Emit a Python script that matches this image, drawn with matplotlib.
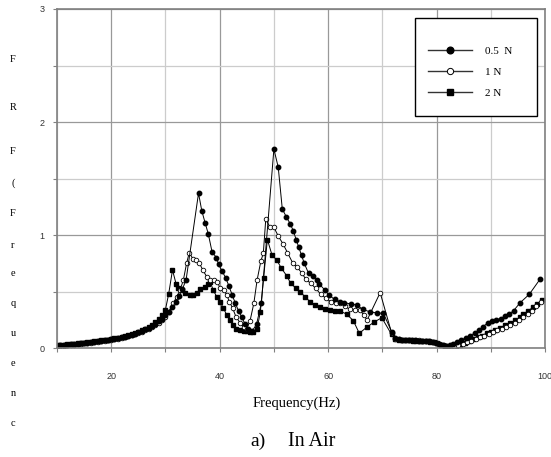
import matplotlib.pyplot as plt
from matplotlib.lines import Line2D
from matplotlib.patches import Rectangle
from matplotlib.ticker import MultipleLocator

# data (frequency in Hz, FRF)
low_f = [10, 10.6, 11.3, 11.9, 12.5, 13.1, 13.8, 14.4, 15, 15.6, 16.3, 16.9,
         17.5, 18.1, 18.8, 19.4, 20, 20.6, 21.3, 21.9, 22.5, 23.1, 23.8, 24.4,
         25, 25.6, 26.3, 26.9, 27.5, 28.1, 28.8, 29.4, 30]

f_05 = low_f + [30.6, 31.3, 31.9, 32.5, 33.1, 33.8,
                36.1, 36.7, 37.3, 37.9, 38.6, 39.4, 39.8, 40.4, 41.1, 41.7,
                42.3, 42.9, 43.5, 44.1, 44.7, 45.3, 46.0, 46.8, 47.7,
                50.0, 50.8, 51.55, 52.3, 53.0, 53.6, 54.1, 54.6, 55.1, 55.6,
                56.4, 57.3, 57.9, 58.4, 59.4, 60.2, 61.2, 62.2, 63.0, 64.2,
                65.3, 66.4, 67.7, 69.0, 70.2, 71.7, 72.3, 73.0, 73.6, 74.2,
                74.9, 75.5, 76.1, 76.8, 77.4, 78.0, 78.6, 79.3, 79.9, 80.5,
                81.1, 81.8, 82.4, 83.0, 83.8, 84.6, 85.4, 86.2, 87.0, 87.8,
                88.6, 89.4, 90.2, 91.0, 91.8, 92.6, 93.4, 94.2, 95.4, 97.1, 99.1]
v_05 = [0.022, 0.024, 0.026, 0.028, 0.031, 0.033, 0.036, 0.040, 0.044, 0.047,
        0.051, 0.055, 0.059, 0.063, 0.067, 0.071, 0.076, 0.081, 0.087, 0.094,
        0.101, 0.109, 0.118, 0.128, 0.139, 0.151, 0.164, 0.178, 0.195, 0.213,
        0.235, 0.26, 0.29,
        0.32, 0.36, 0.41, 0.46, 0.52, 0.60,
        1.37, 1.215, 1.11, 1.01, 0.85, 0.80, 0.74, 0.684, 0.622, 0.55,
        0.47, 0.395, 0.327, 0.27, 0.21, 0.165, 0.15, 0.21, 0.40,
        1.76, 1.60, 1.23, 1.16, 1.10, 1.035, 0.96, 0.89, 0.82, 0.75,
        0.66, 0.635, 0.60, 0.565, 0.513, 0.466, 0.43, 0.41, 0.40, 0.39,
        0.38, 0.342, 0.32, 0.31, 0.307, 0.145, 0.09, 0.08, 0.075, 0.075,
        0.07, 0.07, 0.068, 0.065, 0.065, 0.062, 0.06, 0.055, 0.045, 0.035,
        0.025, 0.02, 0.025, 0.035, 0.05, 0.07, 0.09, 0.11, 0.13, 0.155,
        0.19, 0.22, 0.24, 0.25, 0.26, 0.28, 0.30, 0.33, 0.40, 0.475, 0.61]

f_1 = low_f + [30.6, 31.45, 32.07, 32.7, 33.3, 33.9, 34.4, 35.1, 35.6, 36.2,
               36.9, 37.6, 38.3, 39.0, 39.6, 40.06, 40.8, 41.3, 41.8, 42.4,
               43.0, 43.75, 44.4, 45.0, 45.6, 46.3, 46.9, 47.6, 48.05, 48.5,
               49.3, 50.0, 50.8, 51.7, 52.5, 53.5, 54.2, 55.1, 55.9, 56.8,
               57.7, 58.6, 59.6, 60.5, 61.4, 62.2, 63.1, 64.0, 65.0, 65.9,
               66.6, 67.2, 69.6, 71.7, 72.3, 73.0, 73.6, 74.3, 74.9, 75.5,
               76.2, 76.8, 77.5, 78.1, 78.7, 79.4, 80.0, 80.7, 81.3, 82.0,
               82.6, 83.3, 84.0, 84.8, 85.6, 86.4, 87.2, 88.0, 88.8, 89.6,
               90.4, 91.2, 92.0, 92.8, 93.6, 94.4, 95.2, 96.0, 96.8, 97.6,
               98.4, 99.2]
v_1 = [0.018, 0.020, 0.022, 0.024, 0.027, 0.029, 0.032, 0.036, 0.040, 0.043,
       0.047, 0.051, 0.055, 0.059, 0.063, 0.067, 0.071, 0.076, 0.082, 0.089,
       0.096, 0.104, 0.113, 0.122, 0.133, 0.144, 0.156, 0.170, 0.186, 0.204,
       0.224, 0.248, 0.275,
       0.32, 0.395, 0.454, 0.513, 0.60, 0.75, 0.845, 0.785, 0.779, 0.755,
       0.69, 0.631, 0.60, 0.605, 0.587, 0.528, 0.513, 0.469, 0.41, 0.351,
       0.277, 0.224, 0.189, 0.17, 0.24, 0.395, 0.60, 0.77, 0.838, 1.139,
       1.068, 1.068, 0.991, 0.92, 0.844, 0.75, 0.72, 0.667, 0.608, 0.572,
       0.528, 0.478, 0.44, 0.41, 0.40, 0.40, 0.37, 0.342, 0.338, 0.336,
       0.29, 0.248, 0.49, 0.135, 0.08, 0.078, 0.075, 0.074, 0.072, 0.07,
       0.068, 0.067, 0.066, 0.064, 0.06, 0.055, 0.045, 0.035, 0.025, 0.018,
       0.015, 0.02, 0.028, 0.038, 0.05, 0.065, 0.08, 0.095, 0.11, 0.125,
       0.14, 0.155, 0.17, 0.185, 0.205, 0.225, 0.25, 0.275, 0.30, 0.33,
       0.37, 0.41]

f_2 = low_f + [30.6, 31.3, 31.95, 32.4, 33.0, 33.6, 34.5, 35.1, 35.9, 36.4,
               37.3, 37.9, 38.3, 38.8, 39.45, 40.06, 40.7, 41.3, 41.9, 42.5,
               43.1, 43.75, 44.4, 45.0, 45.6, 46.2, 46.9, 47.5, 48.1, 48.8,
               49.65, 50.5, 51.4, 52.35, 53.1, 54.1, 54.9, 55.8, 56.7, 57.6,
               58.5, 59.4, 60.35, 61.3, 62.2, 63.4, 64.65, 65.75, 67.1, 68.5,
               69.9, 71.7, 72.4, 73.0, 73.6, 74.3, 74.9, 75.6, 76.2, 76.9,
               77.5, 78.2, 78.8, 79.5, 80.1, 80.8, 81.5, 82.2, 82.9, 83.6,
               84.4, 85.2, 86.0, 86.8, 87.6, 88.4, 89.25, 90.0, 90.8, 91.7,
               92.6, 93.5, 94.5, 95.3, 96.0, 96.9, 97.8, 98.6, 99.4]
v_2 = [0.026, 0.028, 0.030, 0.032, 0.034, 0.037, 0.040, 0.044, 0.048, 0.051,
       0.055, 0.059, 0.063, 0.067, 0.071, 0.075, 0.080, 0.085, 0.091, 0.098,
       0.106, 0.114, 0.124, 0.134, 0.146, 0.158, 0.172, 0.188, 0.206, 0.228,
       0.255, 0.29, 0.34,
       0.48, 0.69, 0.57, 0.53, 0.513, 0.49, 0.469, 0.47, 0.484, 0.52,
       0.54, 0.566, 0.58, 0.513, 0.454, 0.41, 0.351, 0.292, 0.248, 0.204,
       0.165, 0.155, 0.153, 0.15, 0.145, 0.145, 0.17, 0.32, 0.62, 0.96,
       0.823, 0.78, 0.705, 0.64, 0.572, 0.528, 0.498, 0.448, 0.41, 0.38,
       0.36, 0.345, 0.336, 0.33, 0.327, 0.30, 0.242, 0.13, 0.183, 0.23,
       0.268, 0.12, 0.08, 0.075, 0.072, 0.07, 0.068, 0.066, 0.064, 0.063,
       0.06, 0.058, 0.055, 0.05, 0.04, 0.028, 0.018, 0.012, 0.015, 0.022,
       0.03, 0.045, 0.06, 0.08, 0.098, 0.11, 0.13, 0.145, 0.16, 0.18,
       0.20, 0.22, 0.245, 0.27, 0.30, 0.33, 0.36, 0.39, 0.425]

labels = ['0.5  N', '1 N', '2 N']

W, H = 551, 457
fig = plt.figure(figsize=(W / 100, H / 100), dpi=100)
ax = fig.add_axes([57 / W, 1 - 348 / H, (545 - 57) / W, (348 - 9) / H])

ax.plot(f_2, v_2, color='black', lw=0.7, marker='s', ms=2.6, mfc='black', mec='black')
ax.plot(f_1, v_1, color='black', lw=0.7, marker='o', ms=3.3, mfc='white', mec='black', mew=0.6)
ax.plot(f_05, v_05, color='black', lw=0.7, marker='o', ms=3.2, mfc='black', mec='black')

ax.set_xlim(10, 100)
ax.set_ylim(0, 3)
ax.xaxis.set_major_locator(MultipleLocator(20))
ax.xaxis.set_minor_locator(MultipleLocator(10))
ax.yaxis.set_major_locator(MultipleLocator(1))
ax.yaxis.set_minor_locator(MultipleLocator(0.5))
ax.grid(which='major', color='#999999', lw=0.9)
ax.grid(which='minor', color='#cccccc', lw=0.9)
ax.set_axisbelow(True)
for s in ax.spines.values():
    s.set_color('#808080')
    s.set_linewidth(1.2)

ax.tick_params(which='both', direction='out', length=3, color='#808080', width=0.8)
ax.tick_params(axis='x', which='major', pad=14, labelsize=6.5, labelcolor='#333333')
ax.tick_params(axis='y', which='major', pad=6, labelsize=6.5, labelcolor='#333333')
for t in ax.get_xticklabels() + ax.get_yticklabels():
    t.set_family('Liberation Sans')

# vertical y label, one upright character at a time
ychars = ['F', 'R', 'F', '(', 'F', 'r', 'e', 'q', 'u', 'e', 'n', 'c']
ypos = [60, 107, 152, 183, 213, 246, 273, 303, 333, 363, 393, 423]
for ch, yp in zip(ychars, ypos):
    fig.text(13 / W, 1 - yp / H, ch, family='Liberation Serif', fontsize=7.5,
             ha='center', va='center')

fig.text(297 / W, 1 - 403 / H, 'Frequency(Hz)', family='Liberation Serif',
         fontsize=10.5, ha='center', va='center')
fig.text(250 / W, 1 - 441 / H, 'a)', family='Liberation Serif', fontsize=14,
         ha='left', va='center')
fig.text(288 / W, 1 - 441 / H, 'In Air', family='Liberation Serif', fontsize=14.5,
         ha='left', va='center')

# legend with its own frame
fig.patches.append(Rectangle((415 / W, 1 - 116 / H), (537 - 415) / W, (116 - 18) / H,
                             transform=fig.transFigure, facecolor='white',
                             edgecolor='black', lw=1.0, zorder=5))
handles = [Line2D([], [], color='#333333', lw=1.0, marker='o', ms=4.8, mfc='black', mec='black'),
           Line2D([], [], color='#333333', lw=1.0, marker='o', ms=4.5, mfc='white', mec='black', mew=0.7),
           Line2D([], [], color='#333333', lw=1.0, marker='s', ms=4.2, mfc='black', mec='black')]
leg = fig.legend(handles, labels, loc='upper left', bbox_to_anchor=(428 / W, 1 - 46 / H),
                 frameon=False, prop={'family': 'Liberation Serif', 'size': 8},
                 handlelength=4.0, handletextpad=1.1, labelspacing=1.0, borderpad=0,
                 borderaxespad=0)
leg.set_zorder(6)

fig.savefig('out.png', dpi=100)
